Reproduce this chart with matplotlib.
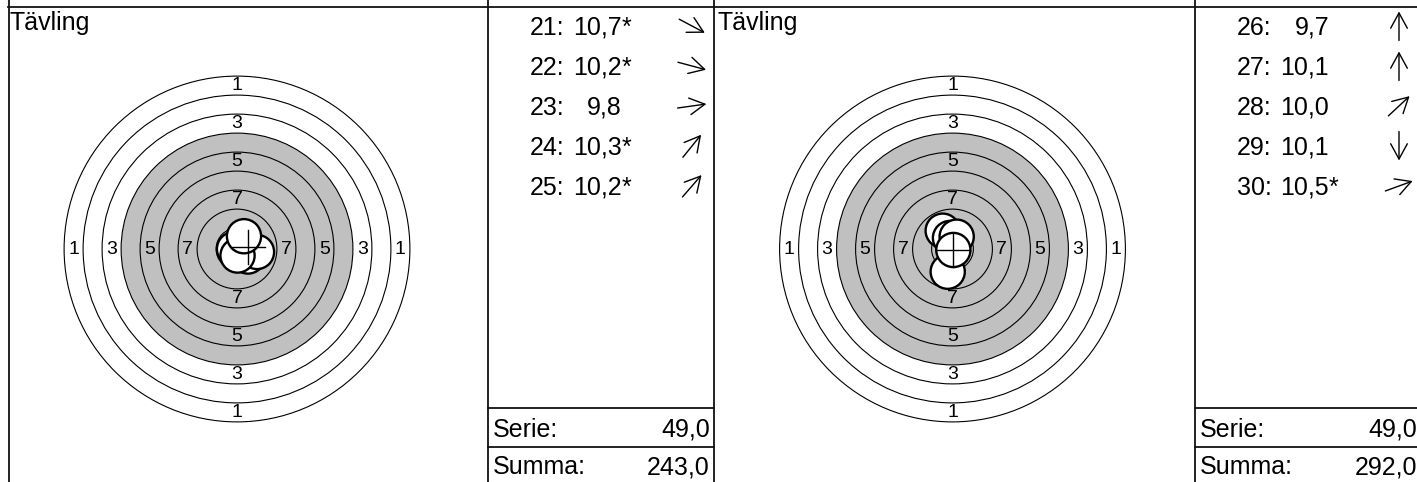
import matplotlib
matplotlib.use('Agg')
import matplotlib.pyplot as plt
from matplotlib.patches import Circle
import numpy as np

plt.rcParams['font.family'] = ['Liberation Sans', 'DejaVu Sans']

# ---------------- data ----------------
title = "Tävling"
ring_labels = [1, 3, 5, 7]

shots1 = [21, 22, 23, 24, 25]
scores1 = ["10,7", "10,2", "9,8", "10,3", "10,2"]
inner1 = [True, True, False, True, True]
angles1 = [-28, -15, 8, 51, 49]
shot_x1 = [-0.39, 1.45, 2.63, 0.07, 0.92]     # mm
shot_y1 = [0.00, -0.99, -0.39, -0.86, 1.68]   # mm
cross1 = (1.45, 0.26)
serie1 = "49,0"
summa1 = "243,0"

shots2 = [26, 27, 28, 29, 30]
scores2 = ["9,7", "10,1", "10,0", "10,1", "10,5"]
inner2 = [False, False, False, False, True]
angles2 = [90, 90, 43, -90, 20]
shot_x2 = [-1.29, -0.33, 0.55, -0.63, 0.11]
shot_y2 = [2.41, 1.45, 1.62, -2.99, -0.13]
cross2 = (0.10, -0.13)
serie2 = "49,0"
summa2 = "292,0"

# ---------------- layout ----------------
W, H = 1417, 482
DPI = 100
PXMM = 7.6
fig = plt.figure(figsize=(W / DPI, H / DPI), dpi=DPI)


def target_axes(x0, x1, cx, cy):
    y0, y1 = 8, 482
    ax = fig.add_axes([x0 / W, 1 - y1 / H, (x1 - x0) / W, (y1 - y0) / H])
    ax.set_xlim((x0 - cx) / PXMM, (x1 - cx) / PXMM)
    ax.set_ylim((cy - y1) / PXMM, (cy - y0) / PXMM)
    ax.axis('off')
    return ax


def draw_target(ax, sx, sy, cross):
    outer = [22.75 - 2.5 * (n - 1) for n in range(1, 10)] + [0.25]
    ax.add_patch(Circle((0, 0), outer[3], fc='#c0c0c0', ec='none', zorder=1))
    for r in outer:
        ax.add_patch(Circle((0, 0), r, fc='none', ec='black', lw=0.8, zorder=2))
    for n in ring_labels:
        r = outer[n - 1] - 1.25
        for (dx, dy) in [(0, r), (0, -r), (-r, 0), (r, 0)]:
            ax.text(dx, dy, str(n), ha='center', va='center', fontsize=14,
                    zorder=3)
    for i, (x, y) in enumerate(zip(sx, sy)):
        ax.add_patch(Circle((x, y), 2.25, fc='white', ec='black', lw=1.7,
                            zorder=5 + i))
    cx, cy = cross
    ax.plot([cx - 2.25, cx + 2.25], [cy, cy], color='black', lw=1, zorder=20)
    ax.plot([cx, cx], [cy - 2.25, cy + 2.25], color='black', lw=1, zorder=20)


ax1 = target_axes(9, 487, 237, 249)
draw_target(ax1, shot_x1, shot_y1, cross1)
ax2 = target_axes(715, 1194, 952.5, 249)
draw_target(ax2, shot_x2, shot_y2, cross2)

# overlay in pixel coordinates
ov = fig.add_axes([0, 0, 1, 1])
ov.set_xlim(0, W)
ov.set_ylim(H, 0)
ov.axis('off')

lc = '#111111'
ov.plot([8, W], [6.5, 6.5], color=lc, lw=1.3)
for x in [8.5, 488, 714, 1195]:
    ov.plot([x, x], [0, H], color=lc, lw=1.3)

fs = 18
row_y = [26, 66, 106, 146, 186]


def draw_list(x0, x1, shots, scores, inner, angles, serie, summa, tx):
    ov.text(tx, 30, title, fontsize=fs, ha='left', va='baseline')
    for y, s, sc, st, a in zip(row_y, shots, scores, inner, angles):
        ov.text(x0 + 42, y + 9, f"{s}:", fontsize=fs, ha='left', va='baseline')
        ov.text(x0 + 134, y + 9, sc, fontsize=fs, ha='right', va='baseline')
        if st:
            ov.text(x0 + 134, y + 9, "*", fontsize=fs, ha='left', va='baseline')
        ax_c = x0 + 204
        L = 29
        dx = np.cos(np.radians(a)) * L / 2
        dy = -np.sin(np.radians(a)) * L / 2
        ov.annotate('', xy=(ax_c + dx, y + dy), xytext=(ax_c - dx, y - dy),
                    arrowprops=dict(arrowstyle='->,head_length=0.55,head_width=0.3',
                                    lw=1.0, color='black',
                                    mutation_scale=20, shrinkA=0, shrinkB=0))
    ov.plot([x0, x1], [408, 408], color=lc, lw=1.3)
    ov.plot([x0, x1], [447, 447], color=lc, lw=1.3)
    ov.text(x0 + 5, 437, "Serie:", fontsize=fs, ha='left', va='baseline')
    ov.text(x0 + 222, 437, serie, fontsize=fs, ha='right', va='baseline')
    ov.text(x0 + 5, 474, "Summa:", fontsize=fs, ha='left', va='baseline')
    ov.text(x0 + 222, 474, summa, fontsize=fs, ha='right', va='baseline')


draw_list(488, 714, shots1, scores1, inner1, angles1, serie1, summa1, 10)
draw_list(1195, W, shots2, scores2, inner2, angles2, serie2, summa2, 717)

fig.savefig('out.png', dpi=DPI)
